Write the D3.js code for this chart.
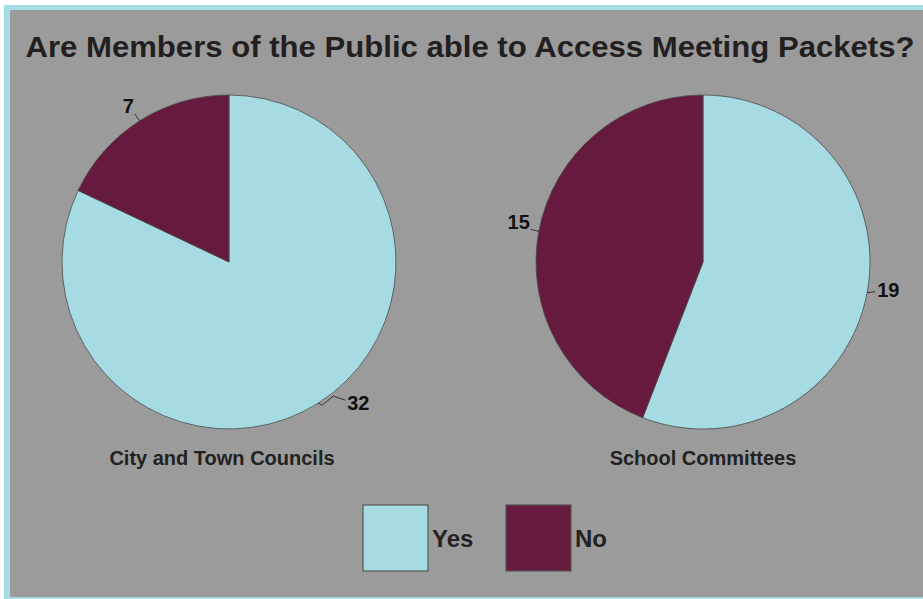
<!DOCTYPE html>
<html><head><meta charset="utf-8">
<script src="https://cdn.jsdelivr.net/npm/d3@7"></script>
<style>html,body{margin:0;padding:0;background:#fff;}svg{display:block;}</style>
</head><body>
<script>
const title = "Are Members of the Public able to Access Meeting Packets?";
const categories = ["Yes", "No"];
const groups = ["City and Town Councils", "School Committees"];
const councilsValues = [32, 7];
const schoolValues = [19, 15];
const colors = ["#a6dbe3", "#661a3e"];

const W = 923, H = 599;
const svg = d3.select("body").append("svg").attr("width", W).attr("height", H);
svg.append("rect").attr("x",0).attr("y",0).attr("width",W).attr("height",H).attr("fill","#fff");
svg.append("rect").attr("x",4).attr("y",5).attr("width",W-4).attr("height",H-5).attr("fill","#a6dce3");
svg.append("rect").attr("x",10).attr("y",10).attr("width",W-10).attr("height",587).attr("fill","#9b9b9b");

const font = "'Liberation Sans', Arial, sans-serif";
svg.append("text").attr("x",470).attr("y",57).attr("text-anchor","middle")
  .attr("font-family",font).attr("font-weight","bold").attr("font-size",30)
  .attr("fill","#231f20").attr("textLength",889).attr("lengthAdjust","spacingAndGlyphs").text(title);

const color = d3.scaleOrdinal().domain(categories).range(colors);
const R = 167;
const pie = d3.pie().sort(null).value(d => d.v);
const arc = d3.arc().innerRadius(0).outerRadius(R);

const charts = [
  {name: groups[0], values: councilsValues, cx: 229, cy: 262, lx: 222},
  {name: groups[1], values: schoolValues, cx: 703, cy: 262, lx: 703}
];

charts.forEach(c => {
  const g = svg.append("g").attr("transform", `translate(${c.cx},${c.cy})`);
  const data = pie(categories.map((k,i) => ({k, v: c.values[i]})));
  g.selectAll("path.slice").data(data).join("path").attr("class","slice")
    .attr("d", arc).attr("fill", d => color(d.data.k))
    .attr("stroke","#4a4a4a").attr("stroke-width",0.8);
  data.forEach(d => {
    const a = (d.startAngle + d.endAngle)/2;
    const sx = Math.sin(a), sy = -Math.cos(a);
    const px = sx*R, py = sy*R;
    let pts, tx, ty, anchor;
    if (sy > 0.5) { // bottom-right ("32")
      pts = [[px,py],[px+4,py+2],[px+15,py-7],[px+27,py-3]];
      tx = px+29; ty = py+7; anchor = "start";
    } else if (sy < -0.5) { // top ("7")
      pts = [[px,py],[px-5,py-7]];
      tx = px-6; ty = py-8; anchor = "end";
    } else if (sx < 0) { // left
      pts = [[px,py],[px-8,py-2]];
      tx = px-9; ty = py-2; anchor = "end";
    } else {
      pts = [[px,py],[px+8,py-1]];
      tx = px+10; ty = py+4; anchor = "start";
    }
    g.append("path").attr("d", d3.line()(pts)).attr("fill","none")
      .attr("stroke","#1a1a1a").attr("stroke-width",0.8);
    g.append("text").attr("x",tx).attr("y",ty).attr("text-anchor",anchor)
      .attr("font-family",font).attr("font-weight","bold").attr("font-size",20)
      .attr("fill","#111").text(d.data.v);
  });
  svg.append("text").attr("x", c.lx).attr("y",465).attr("text-anchor","middle")
    .attr("font-family",font).attr("font-weight","bold").attr("font-size",20)
    .attr("fill","#222").text(c.name);
});

// legend
const legX = d3.scaleOrdinal().domain(categories).range([363, 506]);
const lg = svg.selectAll("g.leg").data(categories).join("g").attr("class","leg")
  .attr("transform", d => `translate(${legX(d)},505)`);
lg.append("rect").attr("x",0).attr("y",0).attr("width",65).attr("height",66)
  .attr("fill", d => color(d)).attr("stroke","#555").attr("stroke-width",1.2);
lg.append("text").attr("x",69).attr("y",42).attr("font-family",font)
  .attr("font-weight","bold").attr("font-size",24).attr("fill","#222").text(d => d);
</script>
</body></html>
